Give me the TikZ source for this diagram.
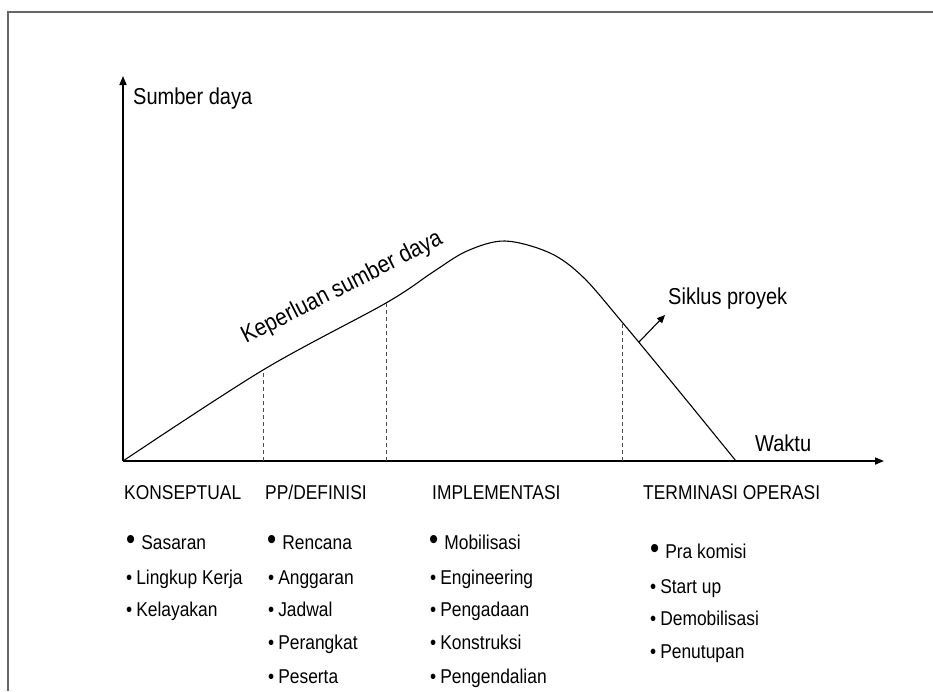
\documentclass[tikz,border=0pt]{standalone}
\usepackage{fontspec}
\setmainfont[FakeStretch=0.87]{Liberation Sans}
\usetikzlibrary{arrows.meta}
\usetikzlibrary{positioning}

\newcommand{\bul}{•\hspace{4pt}}
\newcommand{\bigbul}{{\fontsize{30}{30}\selectfont •}\hspace{6pt}}

\begin{document}
\begin{tikzpicture}[x=1pt,y=-1pt,
		frame/.style={draw=black!60,line width=2pt},
		axis/.style={line width=1.6pt,-{Triangle[length=9pt,width=7pt]}},
		guide/.style={draw=black!70,line width=0.9pt,dash pattern=on 4pt off 3pt},
		lbl/.style={font=\fontsize{23}{26}\selectfont,anchor=base west,inner sep=0pt},
		phase/.style={font=\fontsize{20}{22}\selectfont,anchor=base west,inner sep=0pt},
		item/.style={font=\fontsize{20}{22}\selectfont,anchor=base west,inner sep=0pt}]
	\useasboundingbox (0,0) rectangle (933,691);
	\draw[frame] (933,12) -- (8,12) -- (8,691);

	% axes
	\coordinate (O) at (123,461);
	\coordinate (ytop) at (123,76);
	\coordinate (xend) at (884,461);
	\draw[axis] (O) -- (ytop);
	\draw[axis] (O) -- (xend);
	\node[lbl] (sumber) at (133,104) {Sumber daya};
	\node[lbl] (waktu) at (755,451) {Waktu};

	% curve
	\draw[line width=1.1pt] plot[smooth,tension=0.55] coordinates
		{(123,461) (263,370) (386,303) (433,272) (467,251) (505,241)
		 (550,253) (583,277) (622,322) (679,391) (736,461)};
	\node[lbl,font=\fontsize{24}{26}\selectfont,rotate=27] (keperluan) at (246,344) {Keperluan sumber daya};

	% phase borders
	\coordinate (b1) at (263,461); \coordinate (c1) at (263,370);
	\coordinate (b2) at (386,461); \coordinate (c2) at (386,303);
	\coordinate (b3) at (622,461); \coordinate (c3) at (622,322);
	\draw[guide] (b1) -- (c1);
	\draw[guide] (b2) -- (c2);
	\draw[guide] (b3) -- (c3);

	\coordinate (spstart) at (639,342);
	\coordinate (spend) at (665,315);
	\node[lbl] (siklus) at (668,304) {Siklus proyek};
	\draw[line width=1.1pt,-{Triangle[length=8pt,width=7pt]}] (spstart) -- (spend);

	% phases
	\node[phase] (konseptual) at (124,499) {KONSEPTUAL};
	\node[phase] (definisi) at (265,499) {PP/DEFINISI};
	\node[phase] (implementasi) at (432,499) {IMPLEMENTASI};
	\node[phase] (terminasi) at (643,499) {TERMINASI OPERASI};

	% konseptual
	\node[item] (sasaran) at (126,549) {\bigbul Sasaran};
	\node[item] (lingkup) at (126,584) {\bul Lingkup Kerja};
	\node[item] (kelayakan) at (126,616) {\bul Kelayakan};
	% definisi
	\node[item] (rencana) at (267,549) {\bigbul Rencana};
	\node[item] (anggaran) at (268,584) {\bul Anggaran};
	\node[item] (jadwal) at (268,616) {\bul Jadwal};
	\node[item] (perangkat) at (268,649) {\bul Perangkat};
	\node[item] (peserta) at (268,683) {\bul Peserta};
	% implementasi
	\node[item] (mobilisasi) at (429,549) {\bigbul Mobilisasi};
	\node[item] (engineering) at (430,584) {\bul Engineering};
	\node[item] (pengadaan) at (430,616) {\bul Pengadaan};
	\node[item] (konstruksi) at (430,649) {\bul Konstruksi};
	\node[item] (pengendalian) at (430,683) {\bul Pengendalian};
	% terminasi
	\node[item] (prakomisi) at (650,558) {\bigbul Pra komisi};
	\node[item] (startup) at (650,593) {\bul Start up};
	\node[item] (demobilisasi) at (650,625) {\bul Demobilisasi};
	\node[item] (penutupan) at (650,658) {\bul Penutupan};
\end{tikzpicture}
\end{document}
